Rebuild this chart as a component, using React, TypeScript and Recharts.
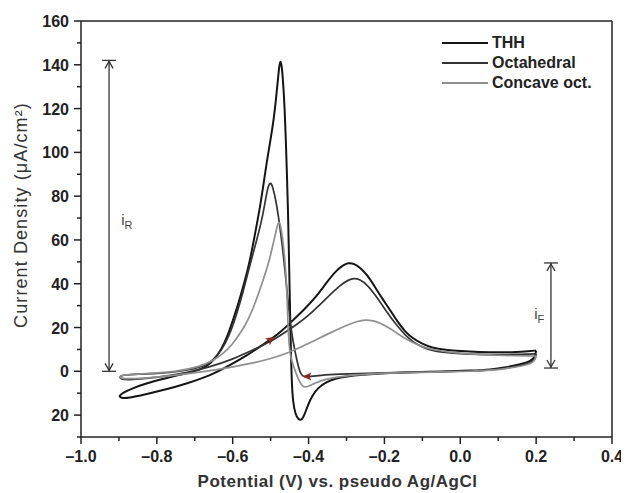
import { LineChart, Line, XAxis, YAxis, Legend, ReferenceLine, ReferenceDot } from 'recharts'

// cyclic voltammograms, each loop listed in scan order (reverse sweep, then forward sweep)
const thhPotential = [
  0.2, 0.197, 0.185, 0.16, 0.12, 0.08, 0.03, -0.05, -0.12, -0.2, -0.26, -0.3, -0.33, -0.355, -0.375, -0.39, -0.402, -0.41,
  -0.418, -0.427, -0.435, -0.441, -0.444, -0.446, -0.448, -0.45, -0.452, -0.454, -0.457, -0.46, -0.463, -0.467, -0.471,
  -0.474, -0.477, -0.481, -0.486, -0.492, -0.5, -0.51, -0.52, -0.53, -0.541, -0.555, -0.57, -0.585, -0.6, -0.615, -0.63,
  -0.65, -0.67, -0.7, -0.74, -0.78, -0.83, -0.865, -0.89, -0.9,
  -0.895, -0.875, -0.83, -0.78, -0.72, -0.66, -0.61, -0.56, -0.53, -0.5, -0.47, -0.44, -0.41, -0.38, -0.355, -0.33, -0.31,
  -0.295, -0.28, -0.265, -0.245, -0.225, -0.205, -0.185, -0.165, -0.145, -0.125, -0.1, -0.075, -0.04, 0.0, 0.05, 0.1, 0.15,
  0.18, 0.2,
]
const thhCurrent = [
  9.5, 6.5, 4.5, 3.2, 1.8, 0.8, 0.3, -0.1, -0.4, -0.9, -1.6, -2.3, -3.3, -5, -7.5, -11, -15.5, -19.5,
  -22.5, -22, -19.5, -14, -6, 5, 20, 38, 55, 72, 90, 106, 120, 132, 140,
  142, 140, 133, 124, 115, 106, 96, 84, 73, 63, 50, 40, 31, 23, 15.5, 10,
  5, 2, 0, -1.6, -3.3, -5.6, -7.8, -9.8, -11.2,
  -12.2, -12.2, -10.5, -8.5, -5.5, -2, 2.5, 7.5, 11, 14.5, 18.5, 23.5, 28.5, 34, 40, 45.5, 48.5,
  49.6, 49.2, 47.5, 44, 38.5, 33, 28, 22.5, 18, 15, 12.5, 10.8, 9.8, 9.2, 8.8, 8.6, 8.8,
  9.2, 9.5,
]

const octPotential = [
  0.2, 0.197, 0.185, 0.16, 0.12, 0.08, 0.03, -0.05, -0.15, -0.25, -0.32, -0.37, -0.4, -0.412, -0.42, -0.426, -0.432,
  -0.438, -0.444, -0.45, -0.456, -0.462, -0.469, -0.477, -0.486, -0.494, -0.5, -0.506, -0.513, -0.521, -0.532, -0.546,
  -0.56, -0.573, -0.588, -0.603, -0.62, -0.64, -0.665, -0.7, -0.75, -0.8, -0.85, -0.885, -0.9,
  -0.895, -0.875, -0.83, -0.78, -0.72, -0.66, -0.6, -0.55, -0.5, -0.46, -0.43, -0.4, -0.37, -0.34, -0.315, -0.295, -0.28,
  -0.265, -0.245, -0.225, -0.205, -0.185, -0.165, -0.145, -0.125, -0.1, -0.075, -0.04, 0.0, 0.05, 0.1, 0.15, 0.18, 0.2,
]
const octCurrent = [
  8, 5.5, 3.8, 2.6, 1.4, 0.6, 0.1, -0.2, -0.5, -0.9, -1.3, -1.8, -2.4, -2.6, -1.5, 1.5, 6,
  11, 17, 25, 35, 46, 57, 68, 78, 84, 86.5, 85, 79, 71, 63, 54,
  45, 36, 27, 19, 12.5, 7, 3.2, 1, -0.3, -1, -1.3, -1.6, -2.4,
  -3.6, -3.9, -3.3, -2.3, -0.6, 2, 5.5, 9.5, 13.5, 18, 21.5, 25.5, 30.5, 35.5, 39.5, 41.8, 42.5,
  42, 39.5, 35, 30, 25, 20.5, 16.5, 13.5, 11, 9.5, 8.5, 8, 7.7, 7.6, 7.7, 7.9, 8,
]

const concavePotential = [
  0.2, 0.197, 0.185, 0.16, 0.12, 0.08, 0.03, -0.05, -0.15, -0.23, -0.29, -0.33, -0.36, -0.385, -0.4, -0.41, -0.418,
  -0.426, -0.434, -0.441, -0.447, -0.451, -0.454, -0.456, -0.458, -0.462, -0.467, -0.472, -0.477, -0.481, -0.487, -0.495,
  -0.503, -0.515, -0.527, -0.539, -0.553, -0.567, -0.582, -0.6, -0.625, -0.655, -0.69, -0.74, -0.8, -0.85, -0.885, -0.9,
  -0.895, -0.875, -0.82, -0.75, -0.68, -0.6, -0.54, -0.5, -0.46, -0.42, -0.38, -0.34, -0.3, -0.27, -0.25, -0.23, -0.21,
  -0.19, -0.17, -0.15, -0.125, -0.1, -0.07, -0.03, 0.0, 0.05, 0.1, 0.15, 0.18, 0.2,
]
const concaveCurrent = [
  7, 5, 3.4, 2.3, 1.2, 0.5, 0, -0.3, -0.6, -1.1, -1.8, -2.7, -3.8, -5.5, -6.8, -7.4, -6.5,
  -4, -0.5, 3, 6.5, 11, 20, 30, 40, 50, 59, 65, 68.5, 67.5, 63, 57,
  51, 44, 38, 32, 26, 21, 17, 12.5, 8, 4.5, 2, 0.2, -0.8, -1.3, -1.6, -2.2,
  -3.2, -3.5, -3, -1.8, -0.3, 2, 4, 5.8, 8, 11, 14.5, 17.8, 21, 23, 23.5, 23.2, 22,
  20, 17.8, 15.5, 13, 11.2, 9.8, 8.8, 8.3, 7.7, 7.3, 7.1, 7, 7,
]

const seriesNames = ['THH', 'Octahedral', 'Concave oct.']

const xTicks = [-1.0, -0.9, -0.8, -0.7, -0.6, -0.5, -0.4, -0.3, -0.2, -0.1, 0.0, 0.1, 0.2, 0.3, 0.4]
const xMajorTicks = [-1.0, -0.8, -0.6, -0.4, -0.2, 0.0, 0.2, 0.4]
const xMajorLabels = ['–1.0', '–0.8', '–0.6', '–0.4', '–0.2', '0.0', '0.2', '0.4']

const yTicks = [-30, -20, -10, 0, 10, 20, 30, 40, 50, 60, 70, 80, 90, 100, 110, 120, 130, 140, 150, 160]
const yMajorTicks = [-20, 0, 20, 40, 60, 80, 100, 120, 140, 160]
const yMajorLabels = ['20', '0', '20', '40', '60', '80', '100', '120', '140', '160']

// i_R and i_F markers (potential, lower and upper current)
const iR = { x: -0.926, from: 0, to: 142 }
const iF = { x: 0.239, from: 1.5, to: 49.5 }

const toPoints = (xs: number[], ys: number[]) => xs.map((x, i) => ({ x, y: ys[i] }))

const thhData = toPoints(thhPotential, thhCurrent)
const octData = toPoints(octPotential, octCurrent)
const concaveData = toPoints(concavePotential, concaveCurrent)

const FONT = '"Liberation Sans", Arial, sans-serif'
const INK = '#222'

function XTick({ x, y, payload }: any) {
  const i = xMajorTicks.findIndex((v) => Math.abs(v - payload.value) < 1e-6)
  const major = i >= 0
  return (
    <g>
      <line x1={x} x2={x} y1={y} y2={y + (major ? 7 : 4)} stroke={INK} strokeWidth={1.5} />
      {major && (
        <text x={x} y={y + 25} textAnchor="middle" fontFamily={FONT} fontWeight="bold" fontSize={16} fill={INK}>
          {xMajorLabels[i]}
        </text>
      )}
    </g>
  )
}

function YTick({ x, y, payload }: any) {
  const i = yMajorTicks.indexOf(payload.value)
  const major = i >= 0
  return (
    <g>
      <line x1={x} x2={x - (major ? 7 : 4)} y1={y} y2={y} stroke={INK} strokeWidth={1.5} />
      {major && (
        <text x={x - 12} y={y + 6} textAnchor="end" fontFamily={FONT} fontWeight="bold" fontSize={16} fill={INK}>
          {yMajorLabels[i]}
        </text>
      )}
    </g>
  )
}

function YTitle({ viewBox }: any) {
  const cx = viewBox.x + 19
  const cy = viewBox.y + viewBox.height / 2 - 14
  return (
    <text
      x={cx}
      y={cy}
      transform={`rotate(-90, ${cx}, ${cy})`}
      textAnchor="middle"
      fontFamily={FONT}
      fontSize={18}
      letterSpacing={1.1}
      fill="#333"
    >
      Current Density (μA/cm²)
    </text>
  )
}

function XTitle({ viewBox }: any) {
  const cx = viewBox.x + viewBox.width / 2 - 9
  const cy = viewBox.y + viewBox.height - 6
  return (
    <text x={cx} y={cy} textAnchor="middle" fontFamily={FONT} fontWeight="bold" fontSize={17} letterSpacing={0.5} fill="#333">
      Potential (V) vs. pseudo Ag/AgCl
    </text>
  )
}

function DoubleArrow({ x1, y1, x2, y2 }: any) {
  const top = Math.min(y1, y2)
  const bottom = Math.max(y1, y2)
  return (
    <g stroke="#333" strokeWidth={1.3} fill="none">
      <line x1={x1} x2={x1} y1={top} y2={bottom} />
      <line x1={x1 - 7} x2={x1 + 7} y1={top} y2={top} />
      <line x1={x1 - 7} x2={x1 + 7} y1={bottom} y2={bottom} />
      <polyline points={`${x1 - 4},${top + 8} ${x1},${top + 1} ${x1 + 4},${top + 8}`} />
      <polyline points={`${x1 - 4},${bottom - 8} ${x1},${bottom - 1} ${x1 + 4},${bottom - 8}`} />
    </g>
  )
}

const subLabel = (main: string, sub: string) => (props: any) => (
  <text x={props.cx} y={props.cy} fontFamily={FONT} fontSize={15} fill="#444">
    {main}
    <tspan dy={4} fontSize={11}>{sub}</tspan>
  </text>
)

const scanArrow = (angle: number) => (props: any) => (
  <polygon
    points="5,0 -4,-4 -2,0 -4,4"
    transform={`translate(${props.cx},${props.cy}) rotate(${angle})`}
    fill="#8b2a1e"
  />
)

function renderLegend(props: any) {
  const entries = [...props.payload].sort(
    (a: any, b: any) => seriesNames.indexOf(a.value) - seriesNames.indexOf(b.value),
  )
  return (
    <div style={{ fontFamily: FONT, fontWeight: 'bold', fontSize: 16, color: INK }}>
      {entries.map((entry: any) => (
        <div key={entry.value} style={{ display: 'flex', alignItems: 'center', height: 20 }}>
          <svg width={50} height={20}>
            <line x1={0} x2={46} y1={10} y2={10} stroke={entry.color} strokeWidth={2} />
          </svg>
          <span>{entry.value}</span>
        </div>
      ))}
    </div>
  )
}

export default function App() {
  return (
    <LineChart width={621} height={485} margin={{ top: 13, right: 17, bottom: 0, left: 0 }}>
      <XAxis
        type="number"
        dataKey="x"
        domain={[-1, 0.4]}
        ticks={xTicks}
        interval={0}
        tickSize={0}
        tickMargin={0}
        tickLine={false}
        tick={<XTick />}
        axisLine={{ stroke: INK, strokeWidth: 1.5 }}
        height={56}
        allowDataOverflow
        label={<XTitle />}
      />
      <YAxis
        type="number"
        dataKey="y"
        domain={[-30, 160]}
        ticks={yTicks}
        interval={0}
        tickSize={0}
        tickMargin={0}
        tickLine={false}
        tick={<YTick />}
        axisLine={{ stroke: INK, strokeWidth: 1.5 }}
        width={73}
        allowDataOverflow
        label={<YTitle />}
      />
      <ReferenceLine y={160} stroke={INK} strokeWidth={1.5} />
      <ReferenceLine x={0.4} stroke={INK} strokeWidth={1.5} />
      <ReferenceLine segment={[{ x: iR.x, y: iR.from }, { x: iR.x, y: iR.to }]} shape={DoubleArrow} />
      <ReferenceLine segment={[{ x: iF.x, y: iF.from }, { x: iF.x, y: iF.to }]} shape={DoubleArrow} />
      <ReferenceDot x={-0.894} y={67} r={0} shape={subLabel('i', 'R')} />
      <ReferenceDot x={0.195} y={24} r={0} shape={subLabel('i', 'F')} />
      <Legend
        layout="vertical"
        align="center"
        verticalAlign="middle"
        content={renderLegend}
        wrapperStyle={{ top: 25, left: 434, width: 180 }}
      />
      <Line data={thhData} dataKey="y" name={seriesNames[0]} type="basis" stroke="#151515" strokeWidth={2} dot={false} isAnimationActive={false} />
      <Line data={octData} dataKey="y" name={seriesNames[1]} type="basis" stroke="#333" strokeWidth={1.7} dot={false} isAnimationActive={false} />
      <Line data={concaveData} dataKey="y" name={seriesNames[2]} type="basis" stroke="#8f8f8f" strokeWidth={1.7} dot={false} isAnimationActive={false} />
      <ReferenceDot x={-0.5} y={14.5} r={0} shape={scanArrow(-35)} />
      <ReferenceDot x={-0.403} y={-2.4} r={0} shape={scanArrow(180)} />
    </LineChart>
  )
}
